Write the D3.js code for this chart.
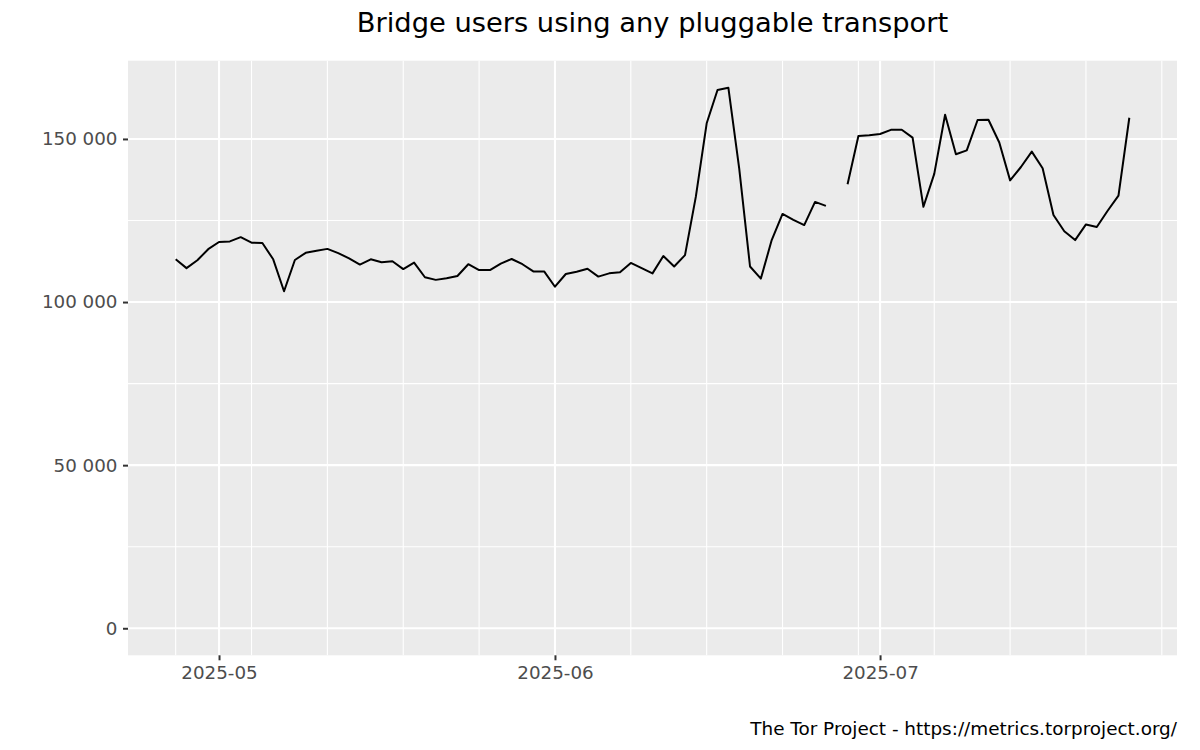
<!DOCTYPE html>
<html>
<head>
<meta charset="utf-8">
<script src="https://cdn.jsdelivr.net/npm/d3@7"></script>
<style>
  html, body { margin: 0; padding: 0; background: #ffffff; }
  svg { display: block; font-family: "DejaVu Sans", sans-serif; }
</style>
</head>
<body>
<svg id="chart" width="1200" height="750"></svg>
<script>
// ---- data ----
const startDate = "2025-04-27";
const users = [
  113100, 110400, 112800, 116200, 118400, 118600, 119900, 118200, 118100, 113100,
  103300, 112900, 115100, 115700, 116300, 115000, 113400, 111500, 113100, 112200,
  112500, 110100, 112100, 107600, 106800, 107300, 108000, 111600, 109800, 109800,
  111800, 113200, 111600, 109400, 109400, 104700, 108600, 109300, 110200, 107800,
  108800, 109100, 112000, 110400, 108800, 114100, 110900, 114400, 132300, 154800,
  165000, 165700, 141000, 110900, 107200, 119000, 127000, 125200, 123600, 130700,
  129500, null, 136100, 150900, 151100, 151500, 152800, 152800, 150400, 129200,
  139300, 157400, 145300, 146500, 155800, 155900, 148900, 137300, 141400, 146100,
  141000, 126700, 121700, 119000, 123800, 123000, 128000, 132600, 156500
];
const yTicks = [0, 50000, 100000, 150000];
const yMinor = [25000, 75000, 125000];
const xMajor = ["2025-05-01", "2025-06-01", "2025-07-01"];
const xMinor = ["2025-04-27", "2025-05-04", "2025-05-11", "2025-05-18", "2025-05-25",
                "2025-06-08", "2025-06-15", "2025-06-22", "2025-06-29", "2025-07-06",
                "2025-07-13", "2025-07-20", "2025-07-27"];
const titleText = "Bridge users using any pluggable transport";
const captionText = "The Tor Project - https://metrics.torproject.org/";

// ---- build ----
(function () {
const parse = d3.utcParse("%Y-%m-%d");
const d0 = parse(startDate);
const data = users.map((v, i) => ({ date: d3.utcDay.offset(d0, i), value: v }));

const svg = d3.select("#chart");
const pLeft = 128, pRight = 1177, pTop = 60.7, pBottom = 655.3;

const dateExt = d3.extent(data, d => d.date);
const span = dateExt[1] - dateExt[0];
const x = d3.scaleUtc()
  .domain([new Date(+dateExt[0] - span * 0.05), new Date(+dateExt[1] + span * 0.05)])
  .range([pLeft, pRight]);

const maxV = d3.max(users.filter(v => v != null));
const y = d3.scaleLinear()
  .domain([0 - maxV * 0.05, maxV * 1.05])
  .range([pBottom, pTop]);

// panel
svg.append("rect").attr("x", pLeft).attr("y", pTop)
  .attr("width", pRight - pLeft).attr("height", pBottom - pTop).attr("fill", "#EBEBEB");

const grid = svg.append("g");
grid.selectAll(".ymin").data(yMinor).join("line")
  .attr("x1", pLeft).attr("x2", pRight)
  .attr("y1", d => y(d)).attr("y2", d => y(d))
  .attr("stroke", "#ffffff").attr("stroke-width", 1.1);
grid.selectAll(".xmin").data(xMinor.map(parse)).join("line")
  .attr("y1", pTop).attr("y2", pBottom)
  .attr("x1", d => x(d)).attr("x2", d => x(d))
  .attr("stroke", "#ffffff").attr("stroke-width", 1.1);
grid.selectAll(".ymaj").data(yTicks).join("line")
  .attr("x1", pLeft).attr("x2", pRight)
  .attr("y1", d => y(d)).attr("y2", d => y(d))
  .attr("stroke", "#ffffff").attr("stroke-width", 2.1);
grid.selectAll(".xmaj").data(xMajor.map(parse)).join("line")
  .attr("y1", pTop).attr("y2", pBottom)
  .attr("x1", d => x(d)).attr("x2", d => x(d))
  .attr("stroke", "#ffffff").attr("stroke-width", 2.1);

// axes
const fmt = v => d3.format(",")(v).replace(/,/g, " ");
const yAxis = d3.axisLeft(y).tickValues(yTicks).tickFormat(fmt).tickSize(5).tickPadding(5.5);
const gy = svg.append("g").attr("transform", `translate(${pLeft},0)`).call(yAxis);
gy.select(".domain").remove();
gy.selectAll(".tick line").attr("stroke", "#333333").attr("stroke-width", 2);
gy.selectAll(".tick text").attr("fill", "#4D4D4D").attr("font-size", 18.3)
  .attr("font-family", "DejaVu Sans");

const xAxis = d3.axisBottom(x).tickValues(xMajor.map(parse))
  .tickFormat(d3.utcFormat("%Y-%m")).tickSize(5).tickPadding(5.5);
const gx = svg.append("g").attr("transform", `translate(0,${pBottom})`).call(xAxis);
gx.select(".domain").remove();
gx.selectAll(".tick line").attr("stroke", "#333333").attr("stroke-width", 2);
gx.selectAll(".tick text").attr("fill", "#4D4D4D").attr("font-size", 18.3)
  .attr("font-family", "DejaVu Sans");

// line
const line = d3.line()
  .defined(d => d.value != null)
  .x(d => x(d.date)).y(d => y(d.value));
svg.append("path").datum(data)
  .attr("d", line).attr("fill", "none")
  .attr("stroke", "#000000").attr("stroke-width", 2)
  .attr("stroke-linejoin", "round");

// title & caption
svg.append("text").attr("x", (pLeft + pRight) / 2).attr("y", 32)
  .attr("text-anchor", "middle").attr("font-size", 27.3).attr("fill", "#000")
  .text(titleText);
svg.append("text").attr("x", pRight).attr("y", 735)
  .attr("text-anchor", "end").attr("font-size", 18.4).attr("fill", "#000")
  .text(captionText);
})();
</script>
</body>
</html>
